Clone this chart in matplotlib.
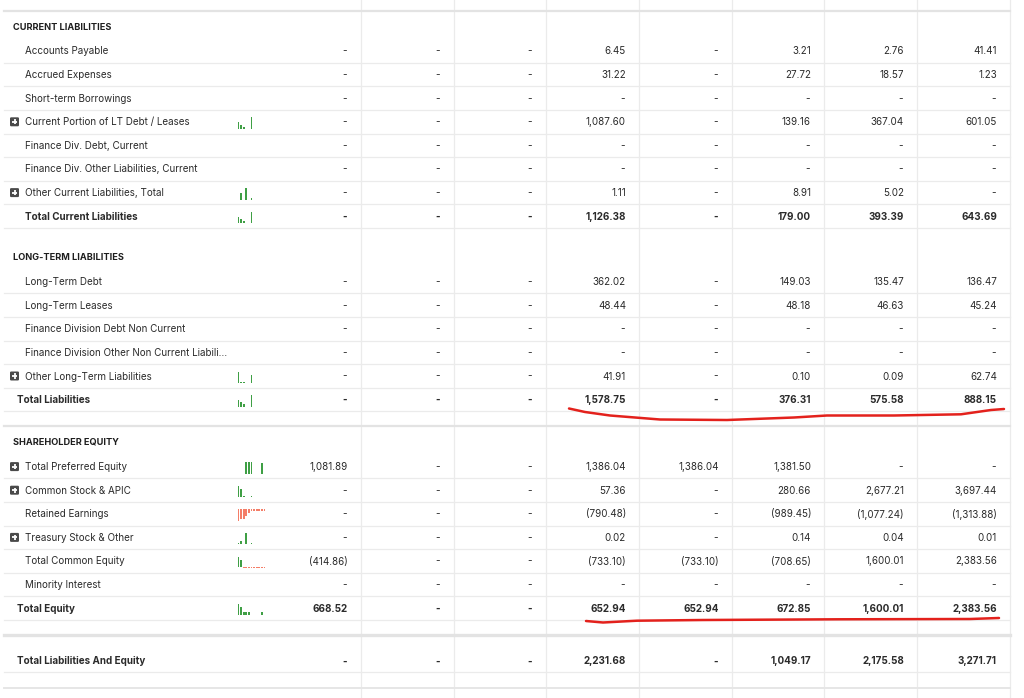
import matplotlib
matplotlib.use("Agg")
import matplotlib.pyplot as plt
from matplotlib.patches import FancyBboxPatch

plt.rcParams['font.family'] = ['Inter', 'DejaVu Sans']

# ---- table data ----
current_labels = ["Accounts Payable", "Accrued Expenses", "Short-term Borrowings",
                  "Current Portion of LT Debt / Leases", "Finance Div. Debt, Current",
                  "Finance Div. Other Liabilities, Current", "Other Current Liabilities, Total",
                  "Total Current Liabilities"]
current_plus = [False, False, False, True, False, False, True, False]
current_values = [
    ["-", "-", "-", "6.45", "-", "3.21", "2.76", "41.41"],
    ["-", "-", "-", "31.22", "-", "27.72", "18.57", "1.23"],
    ["-", "-", "-", "-", "-", "-", "-", "-"],
    ["-", "-", "-", "1,087.60", "-", "139.16", "367.04", "601.05"],
    ["-", "-", "-", "-", "-", "-", "-", "-"],
    ["-", "-", "-", "-", "-", "-", "-", "-"],
    ["-", "-", "-", "1.11", "-", "8.91", "5.02", "-"],
    ["-", "-", "-", "1,126.38", "-", "179.00", "393.39", "643.69"],
]
current_spark = [None, None, None,
                 [601.05, 367.04, 139.16, None, None, 1087.60],
                 None, None,
                 [None, 5.02, None, 8.91, None, 1.11],
                 [643.69, 393.39, 179.00, None, None, 1126.38]]

longterm_labels = ["Long-Term Debt", "Long-Term Leases", "Finance Division Debt Non Current",
                   "Finance Division Other Non Current Liabili…", "Other Long-Term Liabilities",
                   "Total Liabilities"]
longterm_plus = [False, False, False, False, True, False]
longterm_values = [
    ["-", "-", "-", "362.02", "-", "149.03", "135.47", "136.47"],
    ["-", "-", "-", "48.44", "-", "48.18", "46.63", "45.24"],
    ["-", "-", "-", "-", "-", "-", "-", "-"],
    ["-", "-", "-", "-", "-", "-", "-", "-"],
    ["-", "-", "-", "41.91", "-", "0.10", "0.09", "62.74"],
    ["-", "-", "-", "1,578.75", "-", "376.31", "575.58", "888.15"],
]
longterm_spark = [None, None, None, None,
                  [62.74, 0.09, 0.10, None, None, 41.91],
                  [888.15, 575.58, 376.31, None, None, 1578.75]]

equity_labels = ["Total Preferred Equity", "Common Stock & APIC", "Retained Earnings",
                 "Treasury Stock & Other", "Total Common Equity", "Minority Interest",
                 "Total Equity"]
equity_plus = [True, True, False, True, False, False, False]
equity_values = [
    ["1,081.89", "-", "-", "1,386.04", "1,386.04", "1,381.50", "-", "-"],
    ["-", "-", "-", "57.36", "-", "280.66", "2,677.21", "3,697.44"],
    ["-", "-", "-", "(790.48)", "-", "(989.45)", "(1,077.24)", "(1,313.88)"],
    ["-", "-", "-", "0.02", "-", "0.14", "0.04", "0.01"],
    ["(414.86)", "-", "-", "(733.10)", "(733.10)", "(708.65)", "1,600.01", "2,383.56"],
    ["-", "-", "-", "-", "-", "-", "-", "-"],
    ["668.52", "-", "-", "652.94", "652.94", "672.85", "1,600.01", "2,383.56"],
]
equity_spark = [
    [None, None, None, 1381.50, 1386.04, 1386.04, None, None, None, 1250.0],
    [3697.44, 2677.21, 280.66, None, None, 57.36],
    [-1313.88, -1150.0, -1077.24, -790.48, -420.0, -200.0, -200.0, -200.0, -200.0, -200.0, -200.0],
    [0.01, 0.04, None, 0.14, None, 0.02],
    [2383.56, 1600.01, -300.0, -300.0, -300.0, -300.0, -300.0, -300.0, -300.0, -300.0, -300.0],
    None,
    [2383.56, 1600.01, 672.85, 652.94, 652.94, None, None, None, None, 668.52],
]

grand_label = "Total Liabilities And Equity"
grand_values = ["-", "-", "-", "2,231.68", "-", "1,049.17", "2,175.58", "3,271.71"]

# hand-drawn red underline strokes (screen pixels)
stroke1_x = [569, 585, 610, 660, 727, 794, 827, 894, 961, 991, 1004]
stroke1_y = [408.5, 412.0, 415.5, 419.5, 420, 417.5, 415.5, 415.5, 414.3, 410, 409.0]
stroke2_x = [586, 603, 637, 703, 837, 970, 999]
stroke2_y = [621.0, 622.5, 620.7, 620, 619.3, 619, 618.0]

# ---- layout ----
W, H = 1024, 698
grid_x = [361, 454, 546, 639, 732, 824, 917, 1010]
value_right = [g - 13 for g in grid_x]
right_edge = 1010
pitch = 23.6
line_c = '#ebebeb'
green = '#3f9f45'
red = '#f47e68'
txt_c = '#2b2b2b'

fig = plt.figure(figsize=(W / 100, H / 100), dpi=100)
ax = fig.add_axes([0, 0, 1, 1])
ax.set_xlim(0, W)
ax.set_ylim(H, 0)
ax.axis('off')

for gx in grid_x:
    ax.plot([gx, gx], [0, H], color=line_c, lw=0.9, zorder=1)
ax.plot([4, right_edge], [11, 11], color='#e3e3e3', lw=1.6, zorder=1)


def hline(y, lw=0.9, c=line_c):
    ax.plot([4, right_edge], [y, y], color=c, lw=lw, zorder=1)


def plus_icon(cx, cy):
    box = FancyBboxPatch((cx - 4.5, cy - 4.5), 9, 9, boxstyle='round,pad=0,rounding_size=1.2',
                         fc='#4a4a4a', ec='none', zorder=3)
    ax.add_patch(box)
    ax.plot([cx - 2.6, cx + 2.6], [cy, cy], color='white', lw=1.3, zorder=4, solid_capstyle='butt')
    ax.plot([cx, cx], [cy - 2.6, cy + 2.6], color='white', lw=1.3, zorder=4, solid_capstyle='butt')


def sparkline(vals, cy):
    top = cy - 4.5
    full = 11.5
    nums = [v for v in vals if v is not None]
    pmax = max([v for v in nums if v > 0], default=0)
    nmin = min([v for v in nums if v < 0], default=0)
    scale = full / (pmax - nmin)
    base = top + pmax * scale
    xs = [237.5 + 2.6 * i for i in range(len(vals))]
    for x, v in zip(xs, vals):
        if v is None:
            continue
        h = max(abs(v) * scale, 1.2)
        if v >= 0:
            ax.bar(x, -h, bottom=base, width=1.9, color=green, align='edge', zorder=3, lw=0)
        else:
            ax.bar(x, h, bottom=base, width=1.9, color=red, align='edge', zorder=3, lw=0)


def header(text, cy):
    ax.text(13, cy, text, fontsize=6.6, fontweight='bold', color='#1e1e1e', va='center', ha='left')


def section(labels, plus, values, sparks, y0, total_indent):
    for i, (lab, pl, vals, sp) in enumerate(zip(labels, plus, values, sparks)):
        cy = y0 + pitch * i
        is_total = lab.startswith('Total') and i == len(labels) - 1
        x_lab = 25
        if is_total and total_indent:
            x_lab = 17
        if pl:
            plus_icon(14.5, cy)
        ax.text(x_lab, cy + 0.5, lab, fontsize=7.1, color=txt_c, va='center', ha='left',
                fontweight='bold' if is_total else 'normal')
        if sp is not None:
            sparkline(sp, cy)
        for xr, v in zip(value_right, vals):
            ax.text(xr if v != '-' else xr - 1.5, cy + 0.5, v, fontsize=7.1, color=txt_c,
                    va='center', ha='right', fontweight='bold' if is_total else 'normal')
        hline(cy + pitch / 2)


header("CURRENT LIABILITIES", 27)
section(current_labels, current_plus, current_values, current_spark, 51, False)
header("LONG-TERM LIABILITIES", 257.6)
section(longterm_labels, longterm_plus, longterm_values, longterm_spark, 281.6, True)
hline(426, lw=1.6, c='#e3e3e3')
header("SHAREHOLDER EQUITY", 442)
section(equity_labels, equity_plus, equity_values, equity_spark, 466.6, True)
hline(634.5, lw=2.4, c='#e3e3e3')

ax.text(17, 661.5, grand_label, fontsize=7.1, fontweight='bold', color=txt_c, va='center')
for xr, v in zip(value_right, grand_values):
    ax.text(xr if v != '-' else xr - 1.5, 661.5, v, fontsize=7.1, fontweight='bold',
            color=txt_c, va='center', ha='right')
hline(672)
hline(688, lw=1.4, c='#e6e6e6')

ax.plot(stroke1_x, stroke1_y, color='#e3211c', lw=1.8, zorder=5, solid_capstyle='round')
ax.plot(stroke2_x, stroke2_y, color='#e3211c', lw=1.8, zorder=5, solid_capstyle='round')

fig.savefig('out.png', dpi=100)
